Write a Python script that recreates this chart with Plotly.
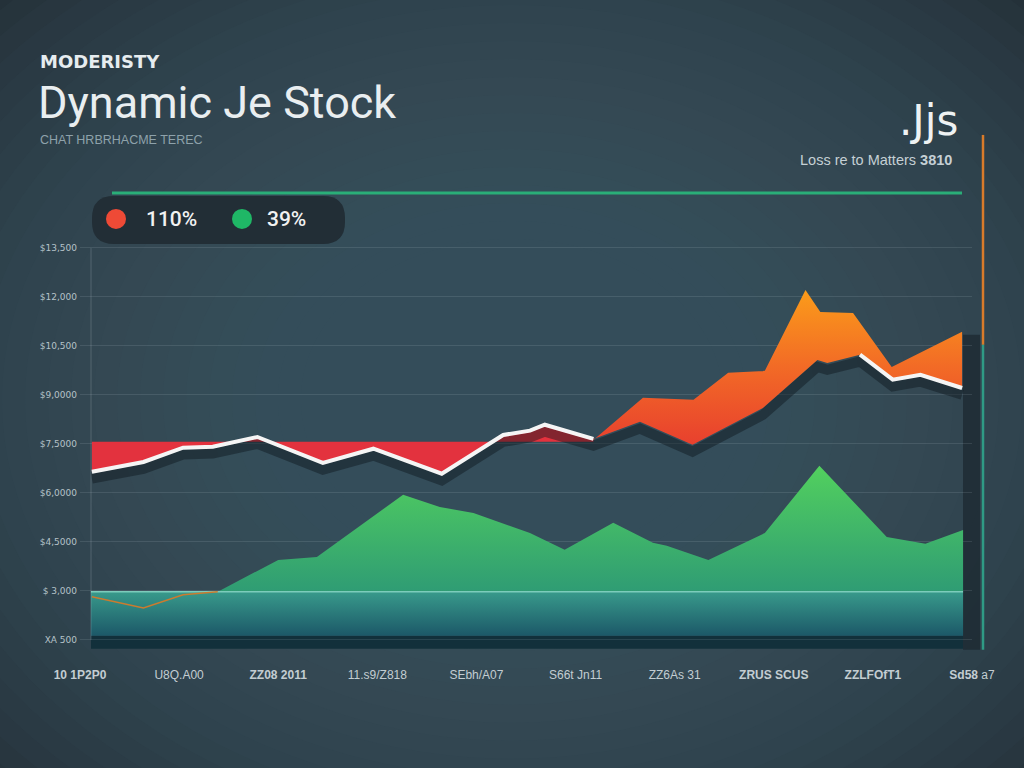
import plotly.graph_objects as go

# x in date slots (0..9), y in price bands (0..8)
x_labels = ["<b>10 1P2P0</b>", "U8Q.A00", "<b>ZZ08 2011</b>", "11.s9/Z818", "SEbh/A07",
            "S66t Jn11", "ZZ6As 31", "<b>ZRUS SCUS</b>", "<b>ZZLFOfT1</b>", "<b>Sd58</b> a7"]
y_labels = ["XA 500", "$ 3,000", "$4,5000", "$6,0000", "$7,5000",
            "$9,0000", "$10,500", "$12,000", "$13,500"]

price_x = [0.12, 0.64, 1.04, 1.34, 1.79, 2.45, 2.96, 3.65, 4.27, 4.54, 4.69,
           5.18, 5.65, 6.18, 6.89, 7.44, 7.54, 7.87, 8.20, 8.48, 8.90]
price_y = [3.43, 3.63, 3.92, 3.94, 4.14, 3.61, 3.90, 3.39, 4.18, 4.27, 4.39,
           4.10, 4.45, 3.98, 4.73, 5.71, 5.65, 5.82, 5.31, 5.41, 5.14]

high_x = [5.18, 5.68, 6.19, 6.54, 6.91, 7.32, 7.47, 7.80, 8.19, 8.90]
high_y = [4.08, 4.94, 4.90, 5.45, 5.49, 7.14, 6.69, 6.67, 5.57, 6.29]

volume_x = [0.11, 1.39, 2.00, 2.39, 3.26, 3.63, 3.97, 4.54, 4.89, 5.38, 5.78,
            5.92, 6.34, 6.91, 7.46, 8.14, 8.53, 8.91]
volume_y = [0.98, 0.98, 1.63, 1.69, 2.96, 2.71, 2.59, 2.18, 1.84, 2.39, 1.98,
            1.92, 1.63, 2.18, 3.55, 2.10, 1.96, 2.24]

base_x = [0.12, 0.64, 1.04, 1.39]
base_y = [0.88, 0.65, 0.92, 0.98]

loss_level = 4.04
band_top = 0.98
band_bottom = 0.08
x_start, x_end = 0.11, 8.91

YR = [-0.25, 8.1]


def px(x):
    return (x - 80) / 892


def py(y):
    return (652.25 - y) / 409.15


fig = go.Figure()

# volume area
fig.add_trace(go.Scatter(x=[x_start, x_end], y=[band_top, band_top], mode='lines',
                         line=dict(width=0), hoverinfo='skip'))
fig.add_trace(go.Scatter(x=volume_x, y=volume_y, mode='lines', line=dict(width=0),
                         fill='tonexty',
                         fillgradient=dict(type='vertical',
                                           colorscale=[[0, '#2f9c74'], [1, '#52d05e']])))
# base band
fig.add_trace(go.Scatter(x=[x_start, x_end], y=[band_bottom, band_bottom], mode='lines',
                         line=dict(width=0), hoverinfo='skip'))
fig.add_trace(go.Scatter(x=[x_start, x_end], y=[band_top, band_top], mode='lines',
                         line=dict(width=1.5, color='#7cccbb'), fill='tonexty',
                         fillgradient=dict(type='vertical',
                                           colorscale=[[0, '#1c5868'], [1, '#389a8b']])))
fig.add_trace(go.Scatter(x=base_x, y=base_y, mode='lines',
                         line=dict(width=1.5, color='#cc7b2e')))
# loss band
fig.add_trace(go.Scatter(x=[price_x[0], price_x[11]], y=[loss_level, loss_level],
                         mode='lines', line=dict(width=0), hoverinfo='skip'))
fig.add_trace(go.Scatter(x=price_x[:12], y=price_y[:12], mode='lines', line=dict(width=0),
                         fill='tonexty', fillcolor='#e3323e'))

# shadow of the price line
fig.add_trace(go.Scatter(x=price_x, y=price_y, mode='lines', yaxis='y2',
                         line=dict(width=10, color='rgba(14,22,28,0.45)')))

# gain area + price line
fig.add_trace(go.Scatter(x=price_x[11:], y=price_y[11:], mode='lines', yaxis='y3',
                         line=dict(width=0)))
fig.add_trace(go.Scatter(x=high_x, y=high_y, mode='lines', yaxis='y3', line=dict(width=0),
                         fill='tonexty',
                         fillgradient=dict(type='vertical',
                                           colorscale=[[0, '#e8402e'], [0.5, '#f26a26'],
                                                       [1, '#fb9c1a']])))
fig.add_trace(go.Scatter(x=price_x[:12], y=price_y[:12], mode='lines', yaxis='y3',
                         line=dict(width=4, color='#f5f5f5')))
fig.add_trace(go.Scatter(x=price_x[17:], y=price_y[17:], mode='lines', yaxis='y3',
                         line=dict(width=4, color='#f5f5f5')))

shapes = []
# vignette background
for k in range(24):
    rx = 740 - k * 23
    ry = 575 - k * 18
    shapes.append(dict(type='circle', xref='paper', yref='paper', layer='below',
                       x0=px(512 - rx), x1=px(512 + rx), y0=py(400 + ry), y1=py(400 - ry),
                       fillcolor='rgba(68,85,96,0.08)', line=dict(width=0)))
shapes.append(dict(type='rect', xref='paper', yref='paper', layer='below',
                   x0=px(91), x1=px(963), y0=py(649), y1=py(636),
                   fillcolor='#12303b', line=dict(width=0)))
shapes.append(dict(type='rect', xref='paper', yref='paper', layer='below',
                   x0=px(963), x1=px(980), y0=py(650), y1=py(335),
                   fillcolor='rgba(28,40,48,0.75)', line=dict(width=0)))
shapes.append(dict(type='line', xref='paper', yref='paper',
                   x0=px(91), x1=px(91), y0=py(248), y1=py(640),
                   line=dict(color='rgba(210,225,235,0.2)', width=1)))
# header rule
shapes.append(dict(type='line', xref='paper', yref='paper',
                   x0=px(112), x1=px(962), y0=py(193), y1=py(193),
                   line=dict(color='#2aae78', width=3)))
# right marker line
shapes.append(dict(type='line', xref='paper', yref='paper',
                   x0=px(983), x1=px(983), y0=py(135), y1=py(345),
                   line=dict(color='#d97b2a', width=2.5)))
shapes.append(dict(type='line', xref='paper', yref='paper',
                   x0=px(983), x1=px(983), y0=py(345), y1=py(650),
                   line=dict(color='#2f9a85', width=2.5)))

# legend pill
x0, x1, y0, y1, r = 92, 345, 196, 244, 22
path = (f"M {px(x0 + r)},{py(y0)} L {px(x1 - r)},{py(y0)} "
        f"Q {px(x1)},{py(y0)} {px(x1)},{py(y0 + r)} L {px(x1)},{py(y1 - r)} "
        f"Q {px(x1)},{py(y1)} {px(x1 - r)},{py(y1)} L {px(x0 + r)},{py(y1)} "
        f"Q {px(x0)},{py(y1)} {px(x0)},{py(y1 - r)} L {px(x0)},{py(y0 + r)} "
        f"Q {px(x0)},{py(y0)} {px(x0 + r)},{py(y0)} Z")
shapes.append(dict(type='path', xref='paper', yref='paper', path=path,
                   fillcolor='#222e36', line=dict(width=0)))
for cx, col in [(116, '#ee4a36'), (242, '#1fb766')]:
    shapes.append(dict(type='circle', xref='paper', yref='paper',
                       x0=px(cx - 10), x1=px(cx + 10), y0=py(229), y1=py(209),
                       fillcolor=col, line=dict(width=0)))


def note(text, x, y, size, color, anchor='left', family='Roboto', weight='normal'):
    return dict(text=text, x=px(x), y=py(y), xref='paper', yref='paper',
                xanchor=anchor, yanchor='middle', showarrow=False,
                font=dict(size=size, color=color, family=family, weight=weight))


annotations = [
    note('<b>MODERISTY</b>', 38, 62, 18, '#e6ecef', family='DejaVu Sans'),
    note('Dynamic Je Stock', 36, 103, 45, '#e9eef0'),
    note('CHAT HRBRHACME TEREC', 38, 140, 12.5, '#8ea2ab', family='Liberation Sans'),
    note('.Jjs', 960, 121, 42, '#eef2f3', anchor='right', family='DejaVu Sans'),
    note('Loss re to Matters <b>3810</b>', 954, 160, 14.5, '#c5d0d5', anchor='right',
         family='Liberation Sans'),
    note('110%', 171, 219, 21, '#f2f2f2', anchor='center', weight=500),
    note('39%', 286, 219, 21, '#f2f2f2', anchor='center', weight=500),
]

fig.update_layout(
    width=1024, height=768,
    margin=dict(l=80, r=52, t=243, b=116),
    paper_bgcolor='#222e36',
    plot_bgcolor='rgba(0,0,0,0)',
    showlegend=False,
    shapes=shapes,
    annotations=annotations,
    xaxis=dict(range=[0, 9], tickvals=list(range(10)), ticktext=x_labels,
               showgrid=False, zeroline=False, showline=False, ticks='',
               ticklabelstandoff=14,
               tickfont=dict(size=12, color='#c3cdd2', family='Liberation Sans')),
    yaxis=dict(range=YR, tickvals=list(range(9)), ticktext=y_labels,
               showgrid=True, gridcolor='rgba(200,215,225,0.13)', gridwidth=1,
               zeroline=False, showline=False, ticks='', ticklabelstandoff=2,
               tickfont=dict(size=9, color='#b5c2c8', family='DejaVu Sans')),
    yaxis2=dict(range=[YR[0] + 0.14, YR[1] + 0.14], overlaying='y', visible=False),
    yaxis3=dict(range=YR, overlaying='y', visible=False),
)

fig.write_html("out.html", config={'displayModeBar': False},
               post_script="document.body.style.margin='0';")
